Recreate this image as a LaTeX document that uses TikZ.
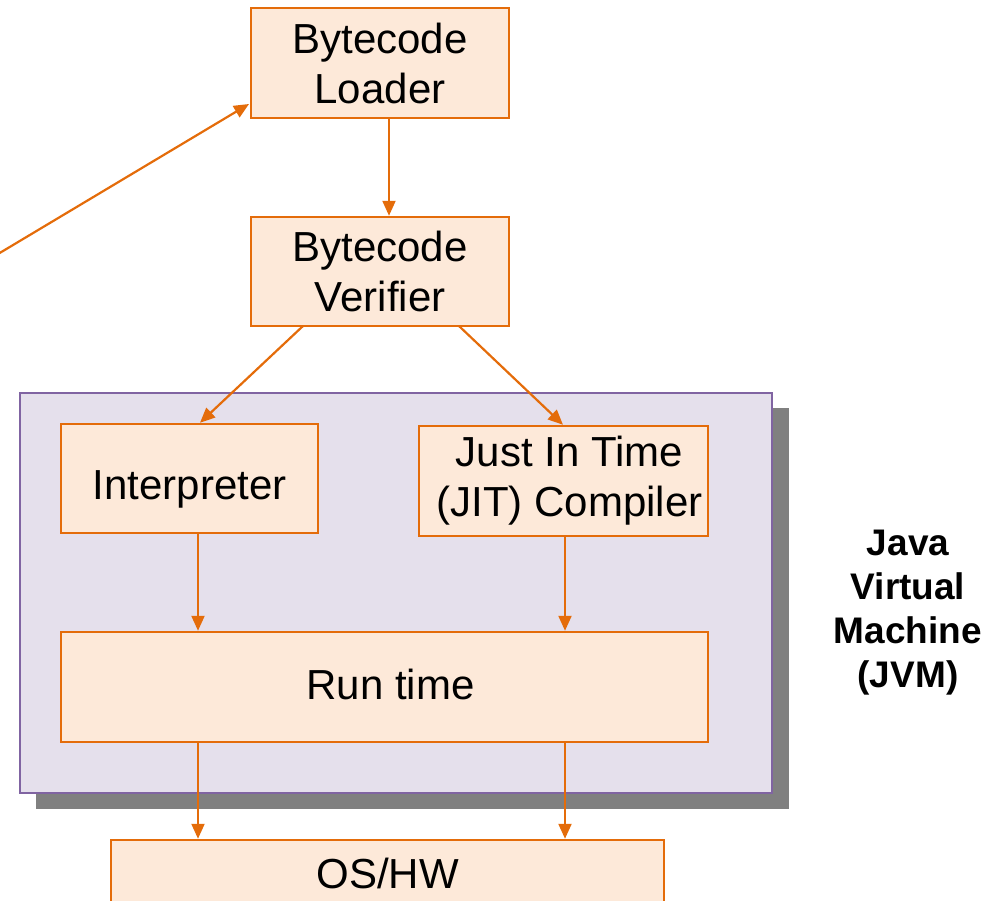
\documentclass[tikz,border=0pt]{standalone}
\usepackage{fontspec}
\setmainfont{Liberation Sans}
\usetikzlibrary{arrows.meta}
\definecolor{orng}{HTML}{E46C0A}
\definecolor{peach}{HTML}{FDE9D9}
\definecolor{lav}{HTML}{E5E0EC}
\definecolor{purp}{HTML}{8064A2}
\definecolor{shad}{HTML}{808080}
\tikzset{
  box/.style={draw=orng, fill=peach, line width=2.5pt, align=center, inner sep=0pt,
    font=\fontsize{42}{50}\selectfont},
  conn/.style={draw=orng, line width=2.2pt, -{Triangle[length=15pt,width=13pt]}},
}
\begin{document}
\begin{tikzpicture}[x=1pt,y=-1pt]
\useasboundingbox (0,0) rectangle (990,900);
% JVM frame with shadow
\fill[shad] (36,408) rectangle (789,809);
\draw[purp, fill=lav, line width=2.5pt] (20,393) rectangle (772,793);
% boxes
\node[box, minimum width=258pt, minimum height=110pt] (load) at (380,63) {Bytecode\\Loader};
\node[box, minimum width=258pt, minimum height=109pt] (ver) at (380,271.5) {Bytecode\\Verifier};
\node[box, minimum width=257pt, minimum height=109pt] (interp) at (189.5,478.5) {\smash{\raisebox{-11pt}{Interpreter}}\vphantom{Interpreter}};
\node[box, minimum width=289pt, minimum height=110pt] (jit) at (563.5,481) {\hspace*{12pt}Just In Time\\\hspace*{12pt}(JIT) Compiler};
\node[box, minimum width=647pt, minimum height=110pt] (rt) at (384.5,687) {\hspace*{12pt}\smash{\raisebox{3pt}{Run time}}\vphantom{Run time}};
\node[box, minimum width=553pt, minimum height=66pt] (os) at (387.5,873) {OS/HW};
\node[font=\fontsize{37}{44}\selectfont\bfseries, align=center] (lbl) at (908,613) {Java\\Virtual\\Machine\\(JVM)};
% connectors
\coordinate (src) at (-2,254);
\coordinate (ldin) at (249,104);
\draw[conn] (src) -- (ldin);
\draw[conn] (load.south -| 389,0) -- (ver.north -| 389,0);
\draw[conn] (303,326) -- (interp.north -| 200,0);
\draw[conn] (459,326) -- (jit.north -| 563,0);
\draw[conn] (interp.south -| 198,0) -- (rt.north -| 198,0);
\draw[conn] (jit.south -| 565,0) -- (rt.north -| 565,0);
\draw[conn] (rt.south -| 198,0) -- (os.north -| 198,0);
\draw[conn] (rt.south -| 565,0) -- (os.north -| 565,0);
\end{tikzpicture}
\end{document}
